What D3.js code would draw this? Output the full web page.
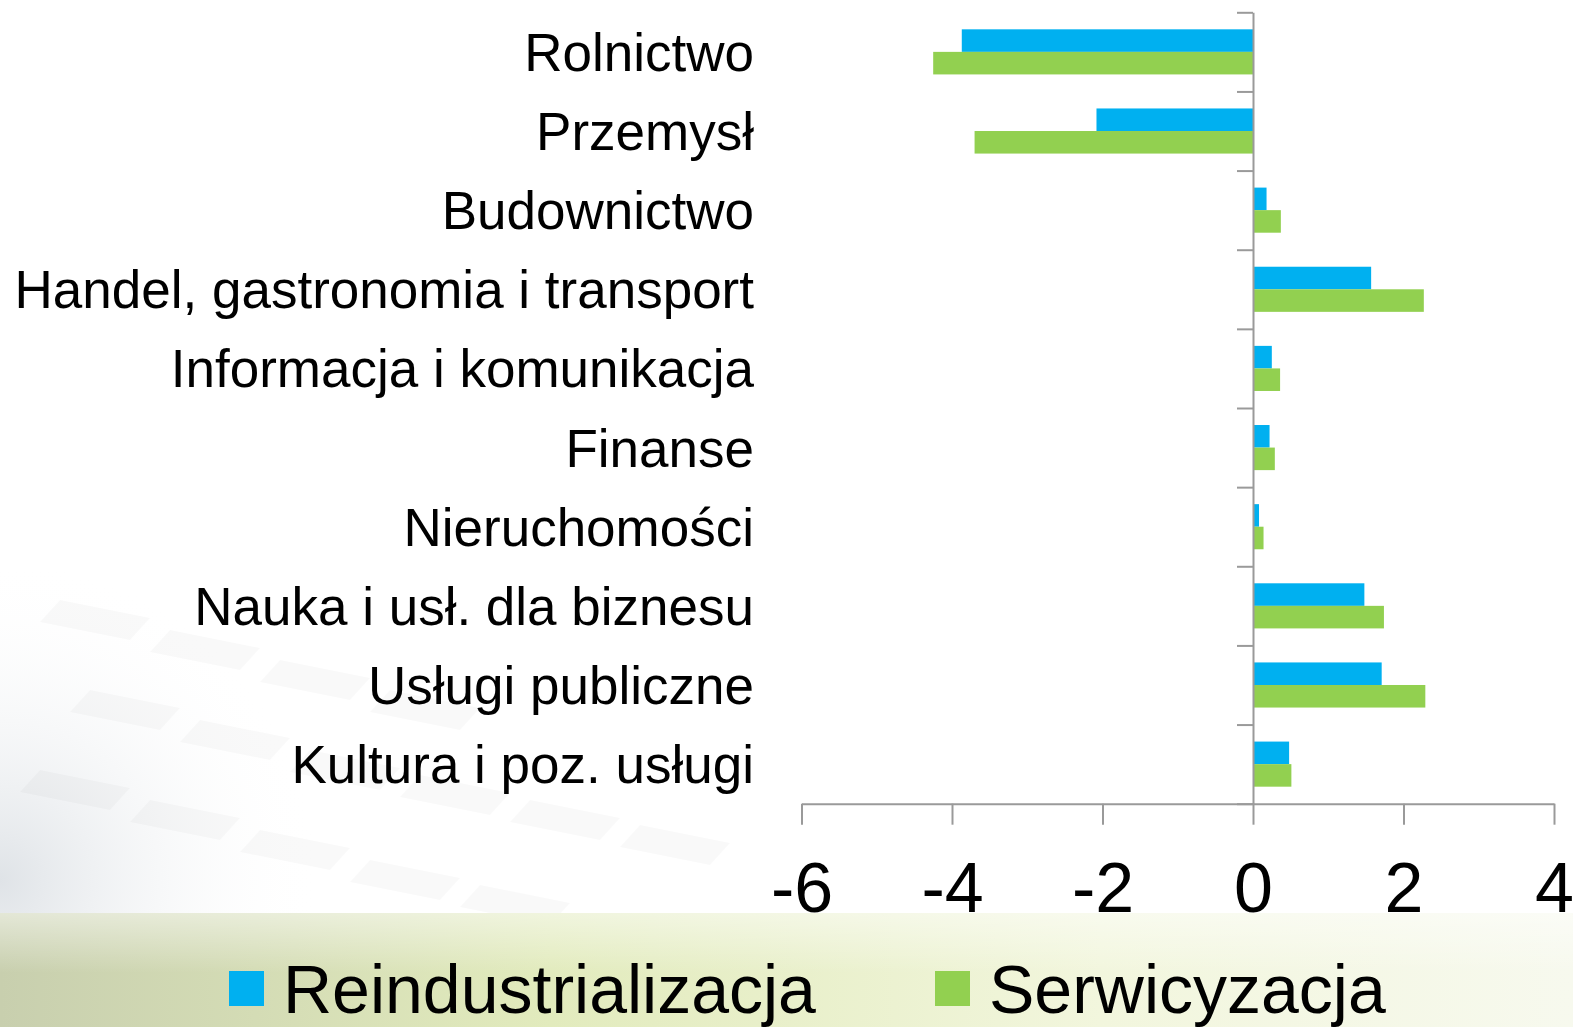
<!DOCTYPE html>
<html>
<head>
<meta charset="utf-8">
<script src="https://cdn.jsdelivr.net/npm/d3@7/dist/d3.min.js"></script>
<style>
  html, body { margin: 0; padding: 0; background: #fff; overflow: hidden; }
  svg { display: block; font-family: Arial, "Liberation Sans", sans-serif; }
</style>
</head>
<body>
<svg id="chart" width="1573" height="1027"></svg>
<script>
const categories = ["Rolnictwo", "Przemysł", "Budownictwo", "Handel, gastronomia i transport",
  "Informacja i komunikacja", "Finanse", "Nieruchomości", "Nauka i usł. dla biznesu",
  "Usługi publiczne", "Kultura i poz. usługi"];
const seriesNames = ["Reindustrializacja", "Serwicyzacja"];
const reindustrializacja = [-3.87, -2.08, 0.18, 1.57, 0.25, 0.22, 0.08, 1.48, 1.71, 0.48];
const serwicyzacja = [-4.25, -3.70, 0.37, 2.27, 0.36, 0.29, 0.14, 1.74, 2.29, 0.51];
const xTicks = [-6, -4, -2, 0, 2, 4];
const colors = ["#00B0F0", "#92D050"];

const svg = d3.select("#chart");
const W = 1573, H = 1027;

// ---- background decoration ----
const defs = svg.append("defs");
const g1 = defs.append("linearGradient").attr("id", "bottomBand").attr("x1", 0).attr("x2", 1).attr("y1", 0).attr("y2", 0);
g1.append("stop").attr("offset", "0%").attr("stop-color", "#c8cfae");
g1.append("stop").attr("offset", "35%").attr("stop-color", "#e2ebbd");
g1.append("stop").attr("offset", "70%").attr("stop-color", "#f2f6dd");
g1.append("stop").attr("offset", "100%").attr("stop-color", "#f7f9ee");
const g2 = defs.append("radialGradient").attr("id", "leftShade")
  .attr("gradientUnits", "userSpaceOnUse").attr("cx", 0).attr("cy", 880).attr("r", 320);
g2.append("stop").attr("offset", "0%").attr("stop-color", "#dfe3e7").attr("stop-opacity", 1);
g2.append("stop").attr("offset", "100%").attr("stop-color", "#ffffff").attr("stop-opacity", 0);
const g3 = defs.append("linearGradient").attr("id", "bandFade").attr("x1", 0).attr("x2", 0).attr("y1", 0).attr("y2", 1);
g3.append("stop").attr("offset", "0%").attr("stop-color", "#ffffff").attr("stop-opacity", 0.5);
g3.append("stop").attr("offset", "100%").attr("stop-color", "#ffffff").attr("stop-opacity", 0);

svg.append("rect").attr("width", W).attr("height", H).attr("fill", "#ffffff");
svg.append("rect").attr("x", 0).attr("y", 500).attr("width", 400).attr("height", 413).attr("fill", "url(#leftShade)");
// faint tiles
const tiles = [[40,770],[150,800],[260,830],[370,860],[480,885],[90,690],[200,720],[310,750],[420,775],[530,800],[640,825],[60,600],[170,630],[280,660],[390,690]];
svg.append("g").selectAll("path").data(tiles).join("path")
  .attr("d", d => `M${d[0]},${d[1]} l90,18 l-20,22 l-90,-18 z`)
  .attr("fill", "#000").attr("opacity", 0.022);
svg.append("rect").attr("x", 0).attr("y", 913).attr("width", W).attr("height", H - 913).attr("fill", "url(#bottomBand)");
svg.append("rect").attr("x", 0).attr("y", 913).attr("width", W).attr("height", 60).attr("fill", "url(#bandFade)");

// ---- scales ----
const x = d3.scaleLinear().domain([-6, 4]).range([801.5, 1554]);
const y = d3.scaleBand().domain(categories).range([12.3, 803.7]).paddingInner(0.43).paddingOuter(0.215);
const ySub = d3.scaleBand().domain(seriesNames).range([0, y.bandwidth()]);
const seriesData = [reindustrializacja, serwicyzacja];

// ---- bars ----
seriesNames.forEach((s, si) => {
  svg.append("g").selectAll("rect").data(categories).join("rect")
    .attr("x", (c, i) => x(Math.min(0, seriesData[si][i])))
    .attr("width", (c, i) => Math.abs(x(seriesData[si][i]) - x(0)))
    .attr("y", c => y(c) + ySub(s))
    .attr("height", ySub.bandwidth())
    .attr("fill", colors[si]);
});

// ---- vertical category axis at x=0 ----
const axisColor = "#9a9a9a";
const yTop = y.range()[0], yBot = y.range()[1];
const boundaryScale = d3.scaleLinear().domain([0, categories.length]).range([yTop, yBot]);
const yAxis = d3.axisLeft(boundaryScale).tickValues(d3.range(0, categories.length + 1)).tickSize(16).tickSizeOuter(0).tickFormat("");
const gy = svg.append("g").attr("transform", `translate(${x(0)},0)`).call(yAxis);
gy.selectAll("line, path").attr("stroke", axisColor).attr("stroke-width", 2);

// category labels
svg.append("g").selectAll("text").data(categories).join("text")
  .attr("x", 754)
  .attr("y", c => y(c) + y.bandwidth() / 2 + 19)
  .attr("text-anchor", "end")
  .attr("font-size", 53)
  .attr("fill", "#000")
  .text(c => c);

// ---- bottom value axis ----
const xAxis = d3.axisBottom(x).tickValues(xTicks).tickSize(21).tickSizeOuter(0).tickFormat(d3.format("d"));
const gx = svg.append("g").attr("transform", `translate(0,803.7)`).call(xAxis);
gx.selectAll("line, path").attr("stroke", axisColor).attr("stroke-width", 2);
gx.selectAll("text")
  .attr("y", 108).attr("dy", 0)
  .attr("font-size", 70)
  .attr("font-family", "Arial, 'Liberation Sans', sans-serif")
  .attr("fill", "#000")
  .text(d => d < 0 ? "-" + Math.abs(d) : d);

// ---- legend ----
const legendX = [229, 935];
const lg = svg.append("g").selectAll("g").data(seriesNames).join("g")
  .attr("transform", (d, i) => `translate(${legendX[i]},971)`);
lg.append("rect").attr("width", 35).attr("height", 35).attr("fill", (d, i) => colors[i]);
lg.append("text").attr("x", 54).attr("y", 42).attr("font-size", 68).attr("fill", "#000").text(d => d);
</script>
</body>
</html>
